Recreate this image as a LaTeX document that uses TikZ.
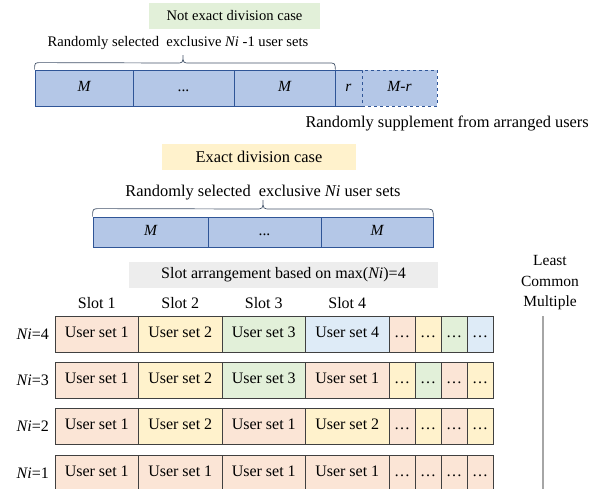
\documentclass[tikz,border=0pt]{standalone}
\usepackage{fontspec}
\setmainfont{Liberation Serif}
\definecolor{barfill}{HTML}{B4C7E7}
\definecolor{barline}{HTML}{2F5597}
\definecolor{bracecol}{HTML}{44546A}
\definecolor{cellsalmon}{HTML}{FBE5D6}
\definecolor{cellyellow}{HTML}{FFF2CC}
\definecolor{cellgreen}{HTML}{E2F0D9}
\definecolor{cellblue}{HTML}{DEEBF7}
\definecolor{titlegreen}{HTML}{E2F0D9}
\definecolor{titleyellow}{HTML}{FFF2CC}
\definecolor{titlegray}{HTML}{EDEDED}
\definecolor{cellline}{HTML}{404040}
\definecolor{lcmline}{HTML}{A6A6A6}
\begin{document}
\begin{tikzpicture}[x=1pt,y=-1pt,
  topfont/.style={font=\fontsize{14.6}{17}\selectfont},
  midfont/.style={font=\fontsize{16.4}{19}\selectfont},
  lowfont/.style={font=\fontsize{16}{19}\selectfont},
  title/.style={inner sep=0pt, anchor=center},
  barcell/.style={draw=barline, fill=barfill, line width=0.8pt, inner sep=0pt,
    text height=10.5pt, text depth=3.5pt,
    font=\fontsize{15.5}{18}\selectfont\itshape},
  bracepath/.style={draw=bracecol, line width=0.7pt},
  cell/.style={draw=cellline, line width=0.8pt, inner sep=0pt,
    text height=11pt, text depth=3.5pt,
    minimum height=36pt, font=\fontsize{16}{19}\selectfont},
  maincell/.style={cell, minimum width=83.5pt},
  smallcell/.style={cell, minimum width=26pt},
  nilabel/.style={anchor=east, inner sep=0pt, lowfont},
]
\clip (0,0) rectangle (591,488);
\fill[white] (0,0) rectangle (591,488);

% ---------- not exact division case ----------
\node[title, topfont, fill=titlegreen, minimum width=171pt, minimum height=26pt]
  (nexact) at (234.5,16) {Not exact division case};
\node[title, topfont] (nexsel) at (178,43)
  {Randomly selected\ \ exclusive \textit{Ni} -1 user sets};
\node[barcell, minimum width=98pt, minimum height=36pt] (topM1) at (84,88) {M};
\node[barcell, minimum width=101pt, minimum height=36pt, font=\fontsize{15.5}{18}\selectfont] (topdots) at (183.5,88) {...};
\node[barcell, minimum width=101pt, minimum height=36pt] (topM2) at (284.5,88) {M};
\node[barcell, minimum width=27pt, minimum height=36pt] (remcell) at (348.5,88) {r};
\node[barcell, dashed, minimum width=75pt, minimum height=36pt] (suppcell) at (399.5,88) {M-r};
\draw[bracepath] (topM1.north west) .. controls +(0,-7) .. ++(7,-7) -- (176,63)
  .. controls (183,63) .. (183,55) .. controls (183,63) .. (190,63)
  -- (328,63) .. controls (335,63) .. (topM2.north east);
\node[title, midfont, anchor=east] (supp) at (589,123) {Randomly supplement from arranged users};

% ---------- exact division case ----------
\node[title, midfont, fill=titleyellow, minimum width=194pt, minimum height=26pt]
  (exact) at (259,157) {Exact division case};
\node[title, midfont] (exsel) at (263,193)
  {Randomly selected\ \ exclusive \textit{Ni} user sets};
\node[barcell, minimum width=115pt, minimum height=30pt] (midM1) at (150.5,232) {M};
\node[barcell, minimum width=113pt, minimum height=30pt, font=\fontsize{15.5}{18}\selectfont] (middots) at (264.5,232) {...};
\node[barcell, minimum width=112pt, minimum height=30pt] (midM2) at (377,232) {M};
\draw[bracepath] (midM1.north west) .. controls +(0,-8) .. ++(8,-8) -- (255,209)
  .. controls (263,209) .. (263,200) .. controls (263,209) .. (271,209)
  -- (425,209) .. controls (433,209) .. (midM2.north east);

% ---------- slot arrangement ----------
\node[title, lowfont, fill=titlegray, minimum width=309pt, minimum height=26pt]
  (slotarr) at (283.5,275) {Slot arrangement based on max(\textit{Ni})=4};
\foreach \k in {1,...,4}
  \node[lowfont] (slot\k) at ({55+83.5*(\k-0.5)},303) {Slot \k};

\node[align=center, font=\fontsize{15.5}{20.5}\selectfont] (lcm) at (550,283)
  {Least\\Common\\Multiple};
\coordinate (lcmtop) at (543,316);
\coordinate (lcmbot) at (543,490);
\draw[lcmline, line width=1.3pt] (lcmtop) -- (lcmbot);

\foreach \rw/\yy/\ni in {1/334/4, 2/380/3, 3/426/2, 4/473/1}
  \node[nilabel] (ni\rw) at (49,\yy) {\textit{Ni}=\ni};

% row Ni=4
\foreach [count=\k] \col/\t in {cellsalmon/1, cellyellow/2, cellgreen/3, cellblue/4}
  \node[maincell, fill=\col] (r1c\k) at ({55+83.5*(\k-0.5)},334) {User set \t};
\foreach [count=\k] \col in {cellsalmon, cellyellow, cellgreen, cellblue}
  \node[smallcell, fill=\col] (r1s\k) at ({389+26*(\k-0.5)},334) {\ldots};
% row Ni=3
\foreach [count=\k] \col/\t in {cellsalmon/1, cellyellow/2, cellgreen/3, cellsalmon/1}
  \node[maincell, fill=\col] (r2c\k) at ({55+83.5*(\k-0.5)},380) {User set \t};
\foreach [count=\k] \col in {cellyellow, cellgreen, cellsalmon, cellyellow}
  \node[smallcell, fill=\col] (r2s\k) at ({389+26*(\k-0.5)},380) {\ldots};
% row Ni=2
\foreach [count=\k] \col/\t in {cellsalmon/1, cellyellow/2, cellsalmon/1, cellyellow/2}
  \node[maincell, fill=\col] (r3c\k) at ({55+83.5*(\k-0.5)},426) {User set \t};
\foreach [count=\k] \col in {cellsalmon, cellyellow, cellsalmon, cellyellow}
  \node[smallcell, fill=\col] (r3s\k) at ({389+26*(\k-0.5)},426) {\ldots};
% row Ni=1 (runs past the lower edge)
\foreach [count=\k] \col/\t in {cellsalmon/1, cellsalmon/1, cellsalmon/1, cellsalmon/1}
  \node[maincell, fill=\col] (r4c\k) at ({55+83.5*(\k-0.5)},473) {User set \t};
\foreach [count=\k] \col in {cellsalmon, cellsalmon, cellsalmon, cellsalmon}
  \node[smallcell, fill=\col] (r4s\k) at ({389+26*(\k-0.5)},473) {\ldots};
\end{tikzpicture}
\end{document}
